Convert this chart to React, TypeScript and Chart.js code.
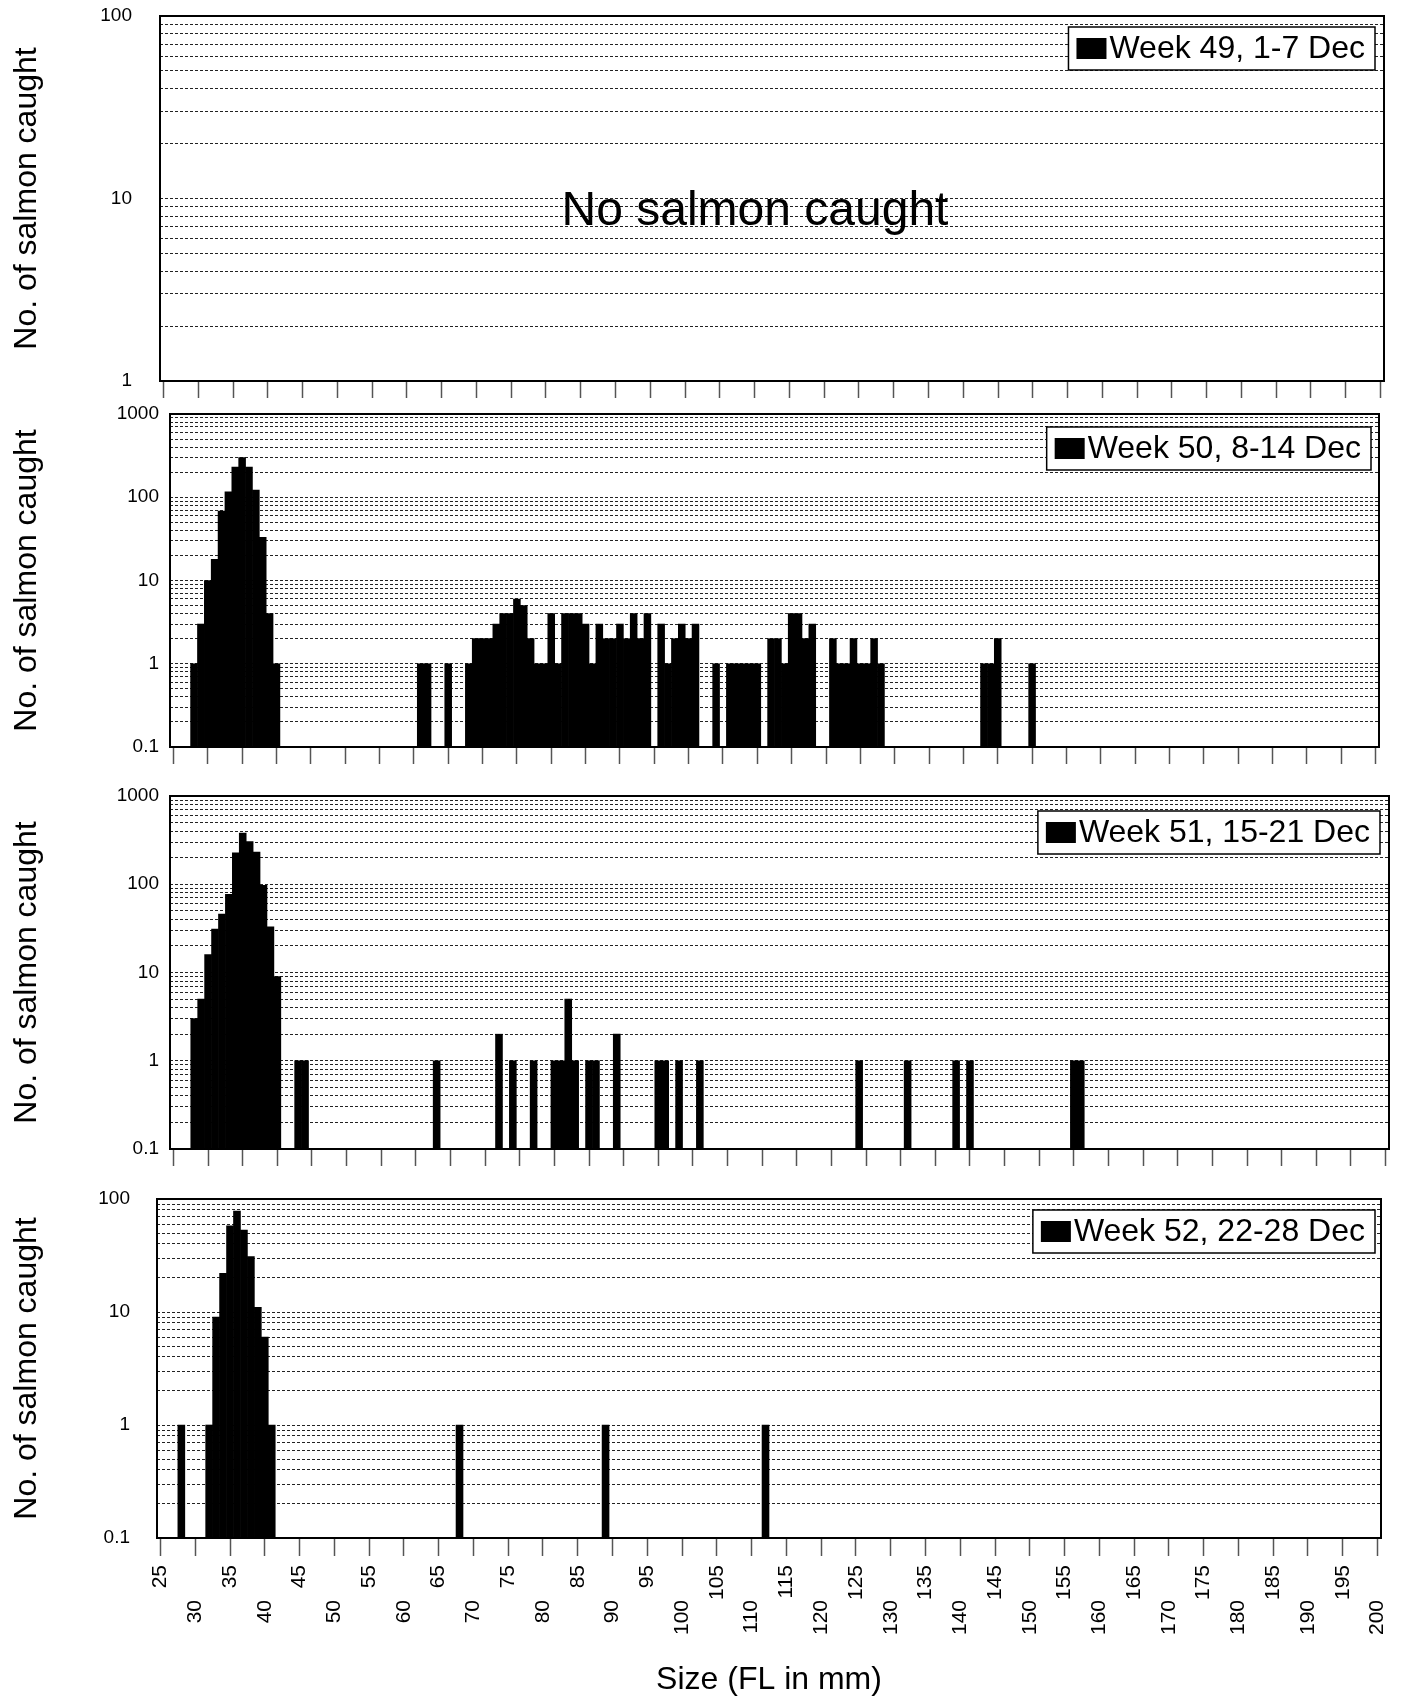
import React, { useEffect, useRef } from 'react';
import { Chart, registerables } from 'chart.js';

Chart.register(...registerables);

const FONT = '"Liberation Sans", Arial, Helvetica, sans-serif';
Chart.defaults.font.family = FONT;
Chart.defaults.color = '#000';

// Size classes (fork length, mm) — category axis
const sizeClasses = [
  25, 26, 27, 28, 29, 30, 31, 32, 33, 34, 35, 36, 37, 38, 39, 40, 41, 42, 43, 44,
  45, 46, 47, 48, 49, 50, 51, 52, 53, 54, 55, 56, 57, 58, 59, 60, 61, 62, 63, 64,
  65, 66, 67, 68, 69, 70, 71, 72, 73, 74, 75, 76, 77, 78, 79, 80, 81, 82, 83, 84,
  85, 86, 87, 88, 89, 90, 91, 92, 93, 94, 95, 96, 97, 98, 99, 100, 101, 102, 103, 104,
  105, 106, 107, 108, 109, 110, 111, 112, 113, 114, 115, 116, 117, 118, 119, 120, 121, 122, 123, 124,
  125, 126, 127, 128, 129, 130, 131, 132, 133, 134, 135, 136, 137, 138, 139, 140, 141, 142, 143, 144,
  145, 146, 147, 148, 149, 150, 151, 152, 153, 154, 155, 156, 157, 158, 159, 160, 161, 162, 163, 164,
  165, 166, 167, 168, 169, 170, 171, 172, 173, 174, 175, 176, 177, 178, 179, 180, 181, 182, 183, 184,
  185, 186, 187, 188, 189, 190, 191, 192, 193, 194, 195, 196, 197, 198, 199, 200,
];

// Week 49 — no salmon caught
const week49Sizes: number[] = [];
const week49Counts: number[] = [];

// Week 50
const week50Sizes = [
  28, 29, 30, 31, 32, 33, 34, 35, 36, 37, 38, 39, 40,
  61, 62, 65, 68, 69, 70, 71, 72, 73, 74, 75, 76, 77, 78, 79, 80, 81, 82, 83, 84, 85, 86,
  87, 88, 89, 90, 91, 92, 93, 94, 96, 97, 98, 99, 100, 101, 104, 106, 107, 108, 109, 110,
  112, 113, 114, 115, 116, 117, 118, 121, 122, 123, 124, 125, 126, 127, 128, 143, 144, 145, 150,
];
const week50Counts = [
  1, 3, 10, 18, 68, 116, 230, 300, 230, 122, 33, 4, 1,
  1, 1, 1, 1, 2, 2, 2, 3, 4, 4, 6, 5, 2, 1, 1, 4, 1, 4, 4, 4, 3, 1,
  3, 2, 2, 3, 2, 4, 2, 4, 3, 1, 2, 3, 2, 3, 1, 1, 1, 1, 1, 1,
  2, 2, 1, 4, 4, 2, 3, 2, 1, 1, 2, 1, 1, 2, 1, 1, 1, 2, 1,
];

// Week 51
const week51Sizes = [
  28, 29, 30, 31, 32, 33, 34, 35, 36, 37, 38, 39, 40, 43, 44, 63, 72, 74, 77, 80,
  81, 82, 83, 85, 86, 89, 95, 96, 98, 101, 124, 131, 138, 140, 155, 156,
];
const week51Counts = [
  3, 5, 16, 31, 46, 77, 227, 379, 305, 231, 97, 33, 9, 1, 1, 1, 2, 1, 1, 1,
  1, 5, 1, 1, 1, 2, 1, 1, 1, 1, 1, 1, 1, 1, 1, 1,
];

// Week 52
const week52Sizes = [28, 32, 33, 34, 35, 36, 37, 38, 39, 40, 41, 68, 89, 112];
const week52Counts = [1, 1, 9, 22, 58, 78, 53, 31, 11, 6, 1, 1, 1, 1];

const legendLabels = ['Week 49, 1-7 Dec', 'Week 50, 8-14 Dec', 'Week 51, 15-21 Dec', 'Week 52, 22-28 Dec'];
const yAxisTitle = 'No. of salmon caught';
const xAxisTitle = 'Size (FL in mm)';
const noDataText = 'No salmon caught';

const W = 1405;

type Panel = {
  id: string;
  legend: string;
  sizes: number[];
  counts: number[];
  yMin: number;
  yMax: number;
  canvasTop: number;
  canvasHeight: number;
  plotLeft: number;
  plotRight: number;
  plotTop: number;
  plotBottom: number;
  yLabelPad: number;
  legendRight: number;
  legendTop: number;
  showX: boolean;
  note?: string;
};

const panels: Panel[] = [
  {
    id: 'w49', legend: legendLabels[0], sizes: week49Sizes, counts: week49Counts, yMin: 1, yMax: 100,
    canvasTop: 0, canvasHeight: 405, plotLeft: 160, plotRight: 1384, plotTop: 16, plotBottom: 381,
    yLabelPad: 28, legendRight: 9, legendTop: 11, showX: false, note: noDataText,
  },
  {
    id: 'w50', legend: legendLabels[1], sizes: week50Sizes, counts: week50Counts, yMin: 0.1, yMax: 1000,
    canvasTop: 395, canvasHeight: 380, plotLeft: 170, plotRight: 1379, plotTop: 414, plotBottom: 747,
    yLabelPad: 11, legendRight: 8, legendTop: 13, showX: false,
  },
  {
    id: 'w51', legend: legendLabels[2], sizes: week51Sizes, counts: week51Counts, yMin: 0.1, yMax: 1000,
    canvasTop: 775, canvasHeight: 400, plotLeft: 170, plotRight: 1389, plotTop: 796, plotBottom: 1149,
    yLabelPad: 11, legendRight: 9, legendTop: 15, showX: false,
  },
  {
    id: 'w52', legend: legendLabels[3], sizes: week52Sizes, counts: week52Counts, yMin: 0.1, yMax: 100,
    canvasTop: 1175, canvasHeight: 524, plotLeft: 157, plotRight: 1381, plotTop: 1199, plotBottom: 1538,
    yLabelPad: 27, legendRight: 6, legendTop: 11, showX: true,
  },
];

const framePlugin = {
  id: 'frame',
  afterDatasetsDraw(chart: any) {
    const { ctx, chartArea } = chart;
    ctx.save();
    ctx.strokeStyle = '#000';
    ctx.lineWidth = 2;
    ctx.strokeRect(chartArea.left, chartArea.top, chartArea.right - chartArea.left, chartArea.bottom - chartArea.top);
    ctx.restore();
  },
};

function makeOverlayPlugin(p: Panel) {
  return {
    id: 'overlay_' + p.id,
    afterDraw(chart: any) {
      const { ctx, chartArea } = chart;
      ctx.save();
      // legend box
      const label = chart.data.datasets[0].label as string;
      ctx.font = `32px ${FONT}`;
      const tw = ctx.measureText(label).width;
      const h = 43;
      const w = 8 + 30 + 3 + tw + 10;
      const x = chartArea.right - p.legendRight - w;
      const y = chartArea.top + p.legendTop;
      ctx.fillStyle = '#fff';
      ctx.fillRect(x, y, w, h);
      ctx.strokeStyle = '#000';
      ctx.lineWidth = 1.5;
      ctx.strokeRect(x, y, w, h);
      ctx.fillStyle = '#000';
      ctx.fillRect(x + 8, y + 11, 30, 21);
      ctx.textAlign = 'left';
      ctx.textBaseline = 'middle';
      ctx.fillText(label, x + 8 + 30 + 3, y + h / 2 + 1);
      // note text
      if (p.note) {
        ctx.font = `48px ${FONT}`;
        ctx.textAlign = 'center';
        ctx.textBaseline = 'alphabetic';
        ctx.fillText(p.note, 755, 225 - p.canvasTop);
      }
      ctx.restore();
    },
  };
}

function isGridValue(v: number) {
  const m = v / Math.pow(10, Math.floor(Math.log10(v) + 1e-9));
  return Math.abs(m - Math.round(m)) < 1e-6;
}

function makeConfig(p: Panel): any {
  const data = sizeClasses.map((s) => {
    const i = p.sizes.indexOf(s);
    return i >= 0 ? p.counts[i] : null;
  });
  const xHeight = p.canvasTop + p.canvasHeight - p.plotBottom;
  return {
    type: 'bar',
    data: {
      labels: sizeClasses.map(String),
      datasets: [
        {
          label: p.legend,
          data,
          backgroundColor: '#000',
          borderWidth: 0,
          categoryPercentage: 1,
          barPercentage: 1,
        },
      ],
    },
    options: {
      animation: false,
      responsive: false,
      maintainAspectRatio: false,
      events: [],
      layout: { padding: { left: 0, right: W - p.plotRight, top: p.plotTop - p.canvasTop, bottom: 0 } },
      plugins: { legend: { display: false }, tooltip: { enabled: false }, title: { display: false } },
      scales: {
        x: {
          type: 'category',
          offset: true,
          grid: {
            offset: false,
            drawOnChartArea: false,
            drawTicks: true,
            tickLength: p.showX ? 18 : 17,
            tickWidth: 1.5,
            color: 'rgba(0,0,0,0)',
            tickColor: (c: any) => (c.index % 5 === 0 ? '#555' : 'rgba(0,0,0,0)'),
          },
          border: { display: false },
          ticks: {
            display: p.showX,
            autoSkip: false,
            minRotation: 90,
            maxRotation: 90,
            padding: 9,
            color: '#000',
            font: { size: 21, family: FONT },
            callback: (_v: any, i: number) => {
              if (i % 5 !== 0) return '';
              const lab = String(sizeClasses[i]);
              return i % 10 === 5 ? lab + '      ' : lab;
            },
          },
          title: p.showX
            ? { display: true, text: xAxisTitle, color: '#000', font: { size: 32, family: FONT }, padding: { top: 0, bottom: 0 } }
            : { display: false },
          afterFit: (s: any) => {
            s.height = xHeight;
            s.paddingLeft = 0;
            s.paddingRight = 0;
          },
        },
        y: {
          type: 'logarithmic',
          min: p.yMin,
          max: p.yMax,
          grid: { color: '#222', lineWidth: 1, drawTicks: false, borderDash: [3, 2] },
          border: { display: false, dash: [3, 2] },
          afterBuildTicks: (s: any) => {
            s.ticks = s.ticks.filter((t: any) => isGridValue(t.value));
          },
          ticks: {
            autoSkip: false,
            padding: p.yLabelPad,
            color: '#000',
            font: { size: 19, family: FONT },
            callback: (v: any) => {
              const n = Number(v);
              const l = Math.log10(n);
              return Math.abs(l - Math.round(l)) < 1e-6 ? String(Math.pow(10, Math.round(l))) : '';
            },
          },
          title: {
            display: true,
            text: yAxisTitle,
            color: '#000',
            font: { size: 32, family: FONT },
            padding: { top: 8, bottom: 0 },
          },
          afterFit: (s: any) => {
            s.width = p.plotLeft;
            s.paddingTop = 0;
            s.paddingBottom = 0;
          },
        },
      },
    },
    plugins: [framePlugin, makeOverlayPlugin(p)],
  };
}

function PanelChart({ panel }: { panel: Panel }) {
  const ref = useRef<HTMLCanvasElement>(null);
  useEffect(() => {
    if (!ref.current) return;
    const chart = new Chart(ref.current, makeConfig(panel));
    return () => chart.destroy();
  }, [panel]);
  return (
    <canvas
      ref={ref}
      width={W}
      height={panel.canvasHeight}
      style={{ position: 'absolute', left: 0, top: panel.canvasTop, width: W, height: panel.canvasHeight }}
    />
  );
}

export default function App() {
  return (
    <div style={{ position: 'absolute', left: 0, top: 0, width: W, height: 1699, background: '#fff', overflow: 'hidden' }}>
      {panels.map((p) => (
        <PanelChart key={p.id} panel={p} />
      ))}
    </div>
  );
}
